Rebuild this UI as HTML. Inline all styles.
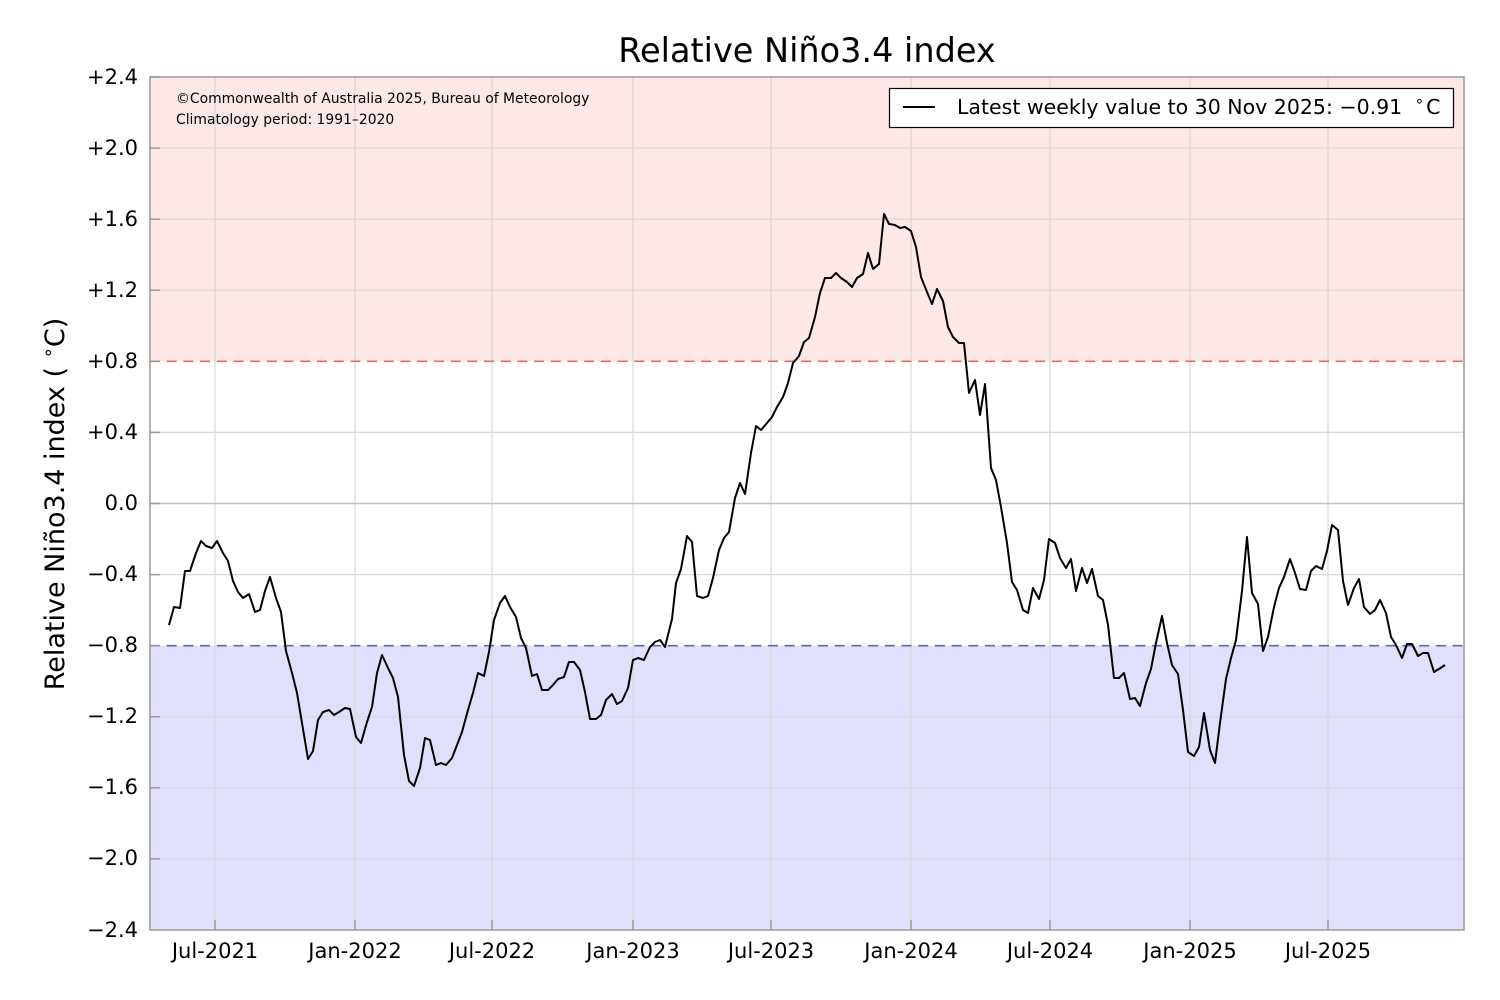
<!DOCTYPE html>
<html><head><meta charset="utf-8"><style>
html,body{margin:0;padding:0;background:#fff;}
svg{display:block;font-family:"DejaVu Sans","Liberation Sans",sans-serif;}
</style></head><body>
<svg width="1500" height="1000" viewBox="0 0 1500 1000" xmlns="http://www.w3.org/2000/svg">
<rect x="0" y="0" width="1500" height="1000" fill="#fff"/>
<rect x="150" y="77" width="1314" height="284.3" fill="#fde8e8"/>
<rect x="150" y="645.7" width="1314" height="284.3" fill="#e0e0fc"/>
<g stroke="#d8d8d8" stroke-width="1.2">
<line x1="150" x2="1464" y1="148.1" y2="148.1"/>
<line x1="150" x2="1464" y1="219.2" y2="219.2"/>
<line x1="150" x2="1464" y1="290.2" y2="290.2"/>
<line x1="150" x2="1464" y1="432.4" y2="432.4"/>
<line x1="150" x2="1464" y1="574.6" y2="574.6"/>
<line x1="150" x2="1464" y1="716.8" y2="716.8"/>
<line x1="150" x2="1464" y1="787.8" y2="787.8"/>
<line x1="150" x2="1464" y1="858.9" y2="858.9"/>
<line y1="77" y2="930" x1="215" x2="215"/>
<line y1="77" y2="930" x1="355" x2="355"/>
<line y1="77" y2="930" x1="492" x2="492"/>
<line y1="77" y2="930" x1="633" x2="633"/>
<line y1="77" y2="930" x1="771" x2="771"/>
<line y1="77" y2="930" x1="911" x2="911"/>
<line y1="77" y2="930" x1="1050" x2="1050"/>
<line y1="77" y2="930" x1="1190" x2="1190"/>
<line y1="77" y2="930" x1="1328" x2="1328"/>
</g>
<line x1="150" x2="1464" y1="503.5" y2="503.5" stroke="#c0c0c0" stroke-width="1.6"/>
<line x1="150" x2="1464" y1="361.3" y2="361.3" stroke="#f06464" stroke-width="1.6" stroke-dasharray="10,6.7"/>
<line x1="150" x2="1464" y1="645.7" y2="645.7" stroke="#6464b4" stroke-width="1.6" stroke-dasharray="10,6.7"/>
<polyline fill="none" stroke="#000" stroke-width="2" stroke-linejoin="round" points="169,625 174,607 180,608 185,571 190,571 196,553 201,541 206,546 212,548 217,541 223,553 228,561 233,581 238,592 243,598 249,594 255,612 260,610 265,591 270,577 276,598 281,612 286,651 292,673 297,693 302,723 308,759 313,751 318,720 323,712 329,710 334,715 339,712 345,708 350,709 356,737 361,743 367,722 372,707 377,673 382,655 388,668 393,678 398,697 404,755 409,781 414,786 420,768 425,738 430,740 436,765 441,763 446,765 452,758 457,745 462,732 468,710 473,693 478,673 484,676 489,652 494,620 500,603 505,596 510,607 516,617 521,638 526,648 532,676 537,674 542,690 548,690 553,685 558,679 564,677 569,662 574,662 580,670 585,692 590,719 596,719 601,715 606,700 612,694 617,704 622,701 628,688 633,660 638,658 644,660 650,647 655,642 660,640 665,647 672,619 676,583 681,569 687,536 692,542 697,596 703,598 708,596 713,578 719,550 724,538 729,532 735,498 740,483 745,494 751,453 756,426 761,430 767,423 772,417 777,407 783,397 788,383 793,363 799,356 804,342 809,338 815,317 820,293 825,278 831,278 836,273 841,278 847,282 852,287 857,278 863,274 868,253 873,269 879,264 884,214 889,224 895,225 900,228 905,227 911,231 916,247 921,277 927,292 932,304 937,289 943,301 948,327 953,337 959,343 964,343 969,393 975,380 980,415 985,384 991,468 996,480 1001,507 1007,543 1012,582 1017,590 1023,610 1028,613 1033,588 1039,599 1044,580 1049,539 1055,543 1060,558 1066,568 1071,559 1076,591 1082,568 1087,583 1092,569 1098,596 1103,600 1108,625 1114,678 1119,678 1124,673 1130,699 1135,698 1140,706 1146,683 1151,669 1156,643 1162,616 1167,643 1172,665 1178,674 1183,710 1188,752 1194,756 1199,747 1204,713 1210,750 1215,763 1220,723 1226,679 1231,658 1236,640 1242,591 1247,537 1252,593 1258,604 1263,651 1268,637 1274,607 1279,588 1284,577 1290,559 1295,573 1300,589 1306,590 1311,571 1316,566 1322,569 1327,551 1332,525 1338,530 1343,581 1348,605 1354,588 1359,579 1364,607 1370,614 1375,610 1380,600 1386,613 1391,637 1396,645 1402,658 1407,644 1412,644 1418,656 1423,653 1428,653 1434,672 1439,669 1445,665"/>
<rect x="150" y="77" width="1314" height="853" fill="none" stroke="#999" stroke-width="1.5"/>
<g stroke="#999" stroke-width="1.5">
<line x1="150" x2="160" y1="77" y2="77"/><line x1="150" x2="160" y1="148.1" y2="148.1"/><line x1="150" x2="160" y1="219.2" y2="219.2"/><line x1="150" x2="160" y1="290.2" y2="290.2"/><line x1="150" x2="160" y1="361.3" y2="361.3"/><line x1="150" x2="160" y1="432.4" y2="432.4"/><line x1="150" x2="160" y1="503.5" y2="503.5"/><line x1="150" x2="160" y1="574.6" y2="574.6"/><line x1="150" x2="160" y1="645.7" y2="645.7"/><line x1="150" x2="160" y1="716.8" y2="716.8"/><line x1="150" x2="160" y1="787.8" y2="787.8"/><line x1="150" x2="160" y1="858.9" y2="858.9"/>
<line y1="930" y2="920" x1="215" x2="215"/><line y1="930" y2="920" x1="355" x2="355"/><line y1="930" y2="920" x1="492" x2="492"/><line y1="930" y2="920" x1="633" x2="633"/><line y1="930" y2="920" x1="771" x2="771"/><line y1="930" y2="920" x1="911" x2="911"/><line y1="930" y2="920" x1="1050" x2="1050"/><line y1="930" y2="920" x1="1190" x2="1190"/><line y1="930" y2="920" x1="1328" x2="1328"/>
</g>
<g font-size="21" fill="#000" text-anchor="end">
<text x="138" y="84">+2.4</text><text x="138" y="155">+2.0</text><text x="138" y="226">+1.6</text><text x="138" y="297">+1.2</text><text x="138" y="368">+0.8</text><text x="138" y="439">+0.4</text><text x="138" y="510">0.0</text><text x="138" y="581">−0.4</text><text x="138" y="652">−0.8</text><text x="138" y="723">−1.2</text><text x="138" y="794">−1.6</text><text x="138" y="865">−2.0</text><text x="138" y="937">−2.4</text>
</g>
<g font-size="21" fill="#000" text-anchor="middle">
<text x="215" y="958">Jul-2021</text><text x="355" y="958">Jan-2022</text><text x="492" y="958">Jul-2022</text><text x="633" y="958">Jan-2023</text><text x="771" y="958">Jul-2023</text><text x="911" y="958">Jan-2024</text><text x="1050" y="958">Jul-2024</text><text x="1190" y="958">Jan-2025</text><text x="1328" y="958">Jul-2025</text>
</g>
<text x="807" y="62" font-size="33.5" text-anchor="middle">Relative Niño3.4 index</text>
<text transform="translate(64,504) rotate(-90)" font-size="27" text-anchor="middle">Relative Niño3.4 index ( <tspan font-size="18" dy="-10">∘</tspan><tspan dy="10">C)</tspan></text>
<text x="176" y="103" font-size="13.9">©Commonwealth of Australia 2025, Bureau of Meteorology</text>
<text x="176" y="124" font-size="13.9">Climatology period: 1991–2020</text>
<rect x="889.5" y="88.5" width="564" height="39" fill="#fff" stroke="#000" stroke-width="1.2"/>
<line x1="903" x2="935" y1="107" y2="107" stroke="#000" stroke-width="2"/>
<text x="957" y="114" font-size="20.5">Latest weekly value to 30 Nov 2025: −0.91 <tspan font-size="15" dx="6" dy="-8">∘</tspan><tspan dx="2" dy="8">C</tspan></text>
</svg>
</body></html>
